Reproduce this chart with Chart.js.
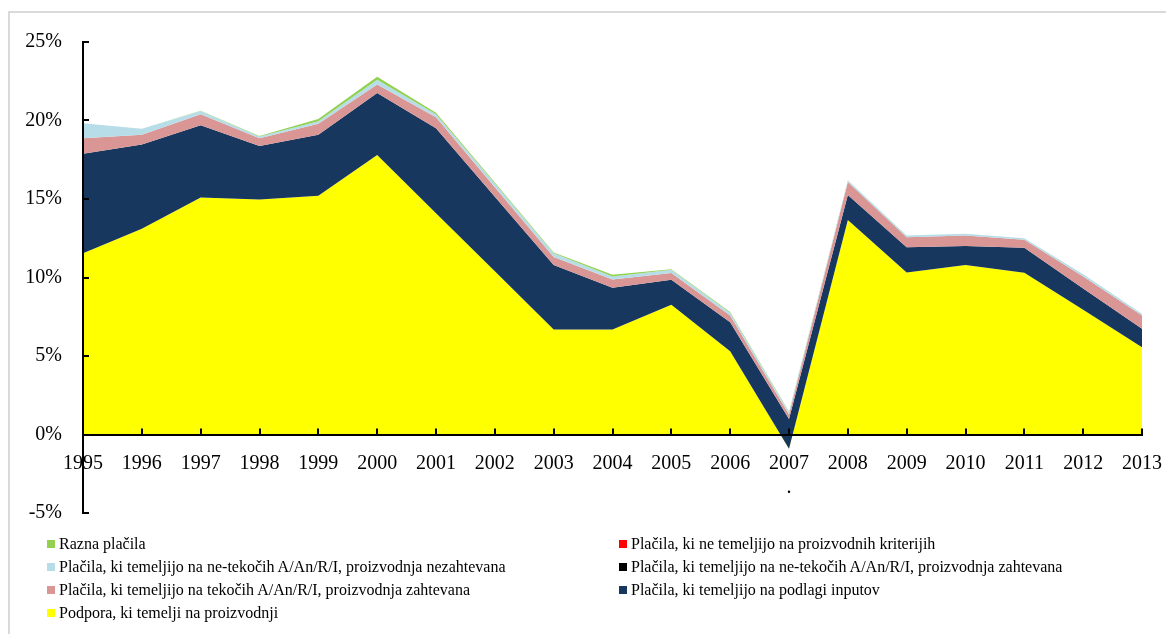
<!DOCTYPE html>
<html>
<head>
<meta charset="utf-8">
<script src="https://cdn.jsdelivr.net/npm/chart.js@4.4.0/dist/chart.umd.min.js"></script>
<style>
  html, body { margin: 0; padding: 0; background: #fff; }
  #wrap { position: relative; width: 1166px; height: 634px; overflow: hidden; font-family: "Liberation Serif", "Times New Roman", serif; }
  #frame { position: absolute; left: 8px; top: 11px; width: 1200px; height: 700px; border-left: 2px solid #dadada; border-top: 2px solid #dadada; }
  #chart { position: absolute; left: 0; top: 0; }
  #legend { position: absolute; left: 47px; top: 532px; width: 1100px; display: grid; grid-template-columns: 572px 500px; grid-auto-rows: 23px; font-size: 16px; color: #000; }
  .item { display: flex; align-items: center; white-space: nowrap; }
  .box { width: 8px; height: 8px; margin-right: 4px; flex: none; }
</style>
</head>
<body>
<div id="wrap">
  <div id="frame"></div>
  <canvas id="chart" width="1166" height="634"></canvas>
  <div id="legend"></div>
</div>
<script>
// leta
const years = ['1995', '1996', '1997', '1998', '1999', '2000', '2001', '2002', '2003', '2004',
               '2005', '2006', '2007', '2008', '2009', '2010', '2011', '2012', '2013'];
const yTicks = [-5, 0, 5, 10, 15, 20, 25];

// vrednosti v % (od spodaj navzgor)
const podpora        = [11.55, 13.1, 15.1, 14.97, 15.2, 17.8, 14.1, 10.4, 6.69, 6.69, 8.26, 5.31, -0.91, 13.67, 10.32, 10.79, 10.3, 7.94, 5.56];
const inputi         = [6.33, 5.37, 4.6, 3.4, 3.9, 3.95, 5.4, 4.75, 4.11, 2.65, 1.59, 1.84, 1.89, 1.59, 1.61, 1.22, 1.6, 1.36, 1.17];
const tekoci         = [0.99, 0.62, 0.7, 0.5, 0.69, 0.55, 0.7, 0.6, 0.5, 0.53, 0.43, 0.43, 0.29, 0.82, 0.64, 0.67, 0.5, 0.76, 0.85];
const netekociZaht   = [0, 0, 0, 0, 0, 0, 0, 0, 0, 0, 0, 0, 0, 0, 0, 0, 0, 0, 0];
const netekociNezaht = [0.96, 0.38, 0.2, 0.11, 0.17, 0.3, 0.2, 0.23, 0.25, 0.19, 0.22, 0.17, 0.15, 0.12, 0.11, 0.1, 0.1, 0.14, 0.11];
const neProizv       = [0, 0, 0, 0, 0, 0, 0, 0, 0, 0, 0, 0, 0, 0, 0, 0, 0, 0, 0];
const razna          = [0, 0, 0.02, 0.03, 0.14, 0.18, 0.1, 0.07, 0.05, 0.11, 0.02, 0.05, 0.03, 0, 0, 0, 0, 0, 0];

const series = [
  { label: 'Podpora, ki temelji na proizvodnji', data: podpora, color: '#FFFF00' },
  { label: 'Plačila, ki temeljijo na podlagi inputov', data: inputi, color: '#17375E' },
  { label: 'Plačila, ki temeljijo na tekočih A/An/R/I, proizvodnja zahtevana', data: tekoci, color: '#D99694' },
  { label: 'Plačila, ki temeljijo na ne-tekočih A/An/R/I, proizvodnja zahtevana', data: netekociZaht, color: '#000000' },
  { label: 'Plačila, ki temeljijo na ne-tekočih A/An/R/I, proizvodnja nezahtevana', data: netekociNezaht, color: '#B7DEE8' },
  { label: 'Plačila, ki ne temeljijo na proizvodnih kriterijih', data: neProizv, color: '#FF0000' },
  { label: 'Razna plačila', data: razna, color: '#92D050' }
];

// kumulativne vsote, kot pri Excelovem naloženem ploščinskem grafikonu
let running = years.map(() => 0);
const datasets = series.map((s, i) => {
  running = running.map((v, j) => v + s.data[j]);
  return {
    label: s.label,
    data: running.slice(),
    backgroundColor: s.color,
    borderColor: 'rgba(0,0,0,0)',
    borderWidth: 0,
    pointRadius: 0,
    tension: 0,
    fill: i === 0 ? 'origin' : '-1',
    order: series.length - i
  };
});

// kljukice na oseh (obrnjene navznoter)
const axisTicks = {
  id: 'axisTicks',
  afterDraw(chart) {
    const { ctx, scales: { x, y } } = chart;
    const y0 = y.getPixelForValue(0);
    ctx.save();
    ctx.strokeStyle = '#000';
    ctx.lineWidth = 2;
    ctx.beginPath();
    yTicks.forEach(v => {
      const py = Math.round(y.getPixelForValue(v));
      ctx.moveTo(x.left, py);
      ctx.lineTo(x.left + 6, py);
    });
    years.forEach((_, i) => {
      const px = Math.round(x.getPixelForValue(i));
      ctx.moveTo(px, y0);
      ctx.lineTo(px, y0 - 6);
    });
    ctx.stroke();
    ctx.restore();
  }
};

const font = { family: 'Liberation Serif', size: 20 };

new Chart(document.getElementById('chart'), {
  type: 'line',
  data: { labels: years, datasets: datasets },
  options: {
    responsive: false,
    animation: false,
    layout: { padding: { left: 0, top: 42, right: 24, bottom: 121 } },
    plugins: {
      legend: { display: false },
      tooltip: { enabled: false }
    },
    scales: {
      x: {
        type: 'category',
        offset: false,
        position: { y: 0 },
        grid: { display: true, drawOnChartArea: false, drawTicks: false },
        border: { display: true, color: '#000', width: 2, z: 1 },
        afterFit: function(scale) { scale.paddingLeft = 0; scale.paddingRight = 0; },
        ticks: {
          color: '#000',
          font: font,
          padding: 17,
          maxRotation: 0,
          autoSkip: false,
          callback: function(value, index) {
            const lab = years[index];
            return lab === '2007' ? [lab, '.'] : lab;
          }
        }
      },
      y: {
        min: -5,
        max: 25,
        grid: { display: true, drawOnChartArea: false, drawTicks: false },
        border: { display: true, color: '#000', width: 2, z: 1 },
        afterFit: function(scale) { scale.width = 83; },
        ticks: {
          stepSize: 5,
          color: '#000',
          font: font,
          padding: 21,
          callback: v => v + '%'
        }
      }
    }
  },
  plugins: [axisTicks]
});

// legenda v dveh stolpcih, obratni vrstni red
const legend = document.getElementById('legend');
series.slice().reverse().forEach(s => {
  const item = document.createElement('div');
  item.className = 'item';
  const box = document.createElement('span');
  box.className = 'box';
  box.style.background = s.color;
  const txt = document.createElement('span');
  txt.textContent = s.label;
  item.appendChild(box);
  item.appendChild(txt);
  legend.appendChild(item);
});
</script>
</body>
</html>
